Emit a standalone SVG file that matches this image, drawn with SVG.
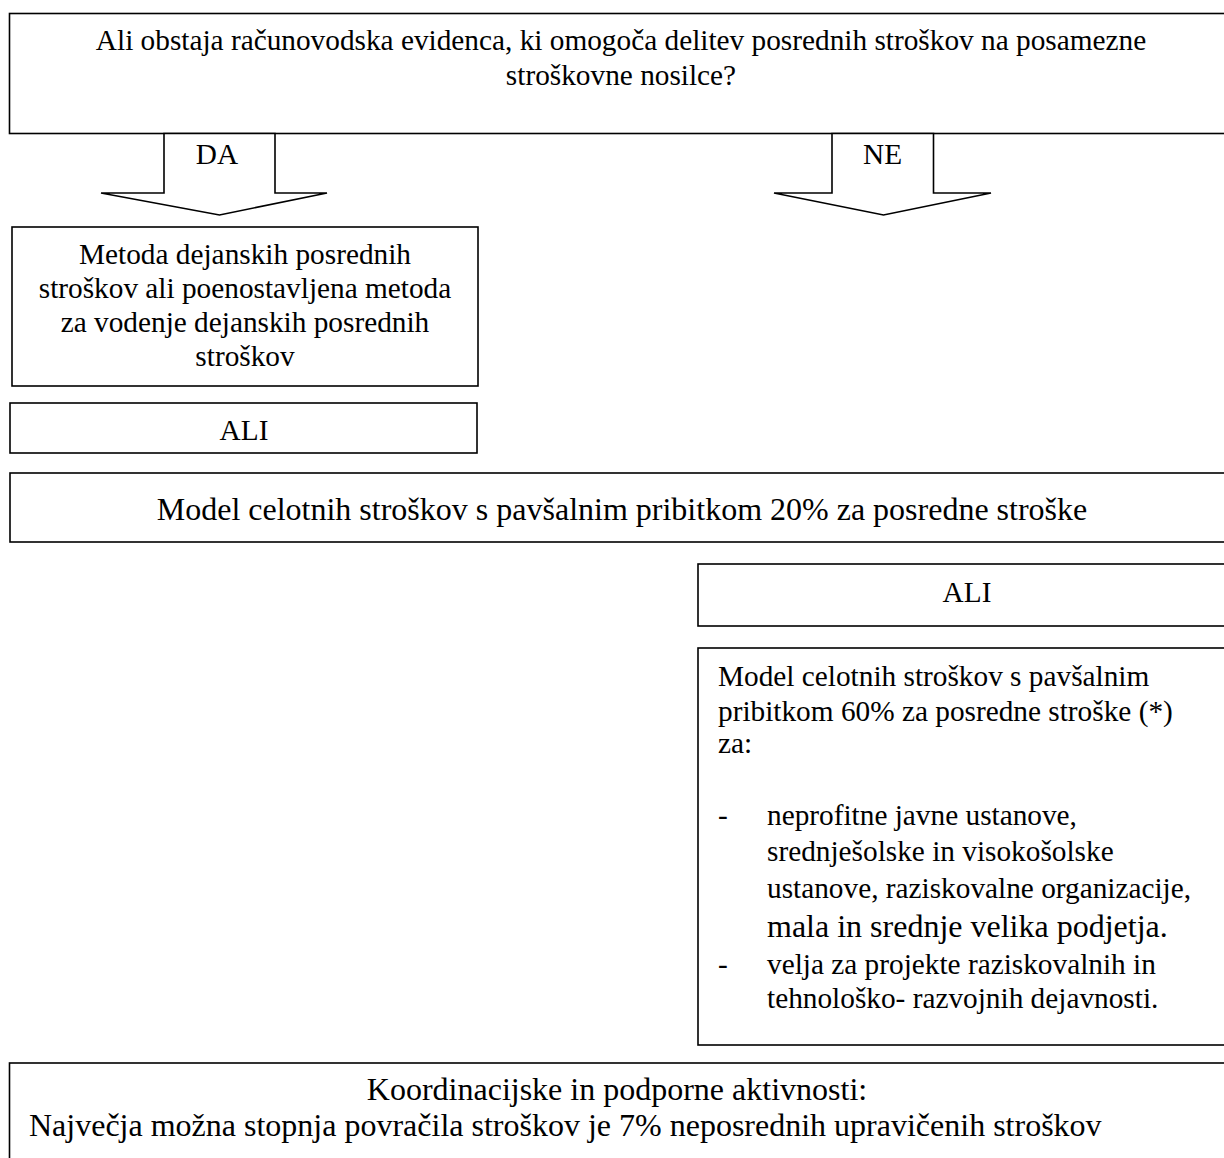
<svg xmlns="http://www.w3.org/2000/svg" width="1224" height="1158" viewBox="0 0 1224 1158">
  <style>
    .box { fill: #fff; stroke: #000; stroke-width: 1.6; }
    .arrow { fill: #fff; stroke: #000; stroke-width: 1.6; stroke-linejoin: miter; }
    text { font-family: "Liberation Serif", "Times New Roman", serif; font-size: 29.3px; fill: #000; }
    .c { text-anchor: middle; }
    .lg { font-size: 32px; }
  </style>
  <rect width="1224" height="1158" fill="#fff"/>

  <!-- question -->
  <g id="question">
    <rect class="box" x="9.5" y="13.5" width="1226" height="120"/>
    <text class="c" x="621" y="50">Ali obstaja računovodska evidenca, ki omogoča delitev posrednih stroškov na posamezne</text>
    <text class="c" x="621" y="85">stroškovne nosilce?</text>
  </g>

  <!-- block arrows -->
  <g id="connectors">
    <g id="arrow-da">
      <polygon class="arrow" points="164,133.5 164,193 101,193 219.5,215 327,193 275,193 275,133.5"/>
      <text class="c" x="217" y="164">DA</text>
    </g>
    <g id="arrow-ne">
      <polygon class="arrow" points="832,133.5 832,193 774,193 883.5,215 991,193 933.5,193 933.5,133.5"/>
      <text class="c" x="882.5" y="164">NE</text>
    </g>
  </g>

  <!-- actual indirect costs -->
  <g id="actual-costs">
    <rect class="box" x="12" y="227" width="466" height="159"/>
    <text class="c" x="245" y="264">Metoda dejanskih posrednih</text>
    <text class="c" x="245" y="298">stroškov ali poenostavljena metoda</text>
    <text class="c" x="245" y="332">za vodenje dejanskih posrednih</text>
    <text class="c" x="245" y="366">stroškov</text>
  </g>

  <g id="or-left">
    <rect class="box" x="10" y="403" width="467" height="50"/>
    <text class="c" x="244" y="440">ALI</text>
  </g>

  <g id="flat-20">
    <rect class="box" x="10" y="473" width="1226" height="69"/>
    <text class="c lg" x="622" y="520">Model celotnih stroškov s pavšalnim pribitkom 20% za posredne stroške</text>
  </g>

  <g id="or-right">
    <rect class="box" x="698" y="564" width="538" height="62"/>
    <text class="c" x="967" y="602">ALI</text>
  </g>

  <g id="flat-60">
    <rect class="box" x="698" y="648" width="538" height="397"/>
    <text x="718" y="686">Model celotnih stroškov s pavšalnim</text>
    <text x="718" y="721">pribitkom 60% za posredne stroške (*)</text>
    <text x="718" y="753">za:</text>
    <text x="718" y="825">-</text>
    <text x="767" y="825">neprofitne javne ustanove,</text>
    <text x="767" y="861">srednješolske in visokošolske</text>
    <text x="767" y="898">ustanove, raziskovalne organizacije,</text>
    <text class="lg" x="767" y="937">mala in srednje velika podjetja.</text>
    <text x="718" y="974">-</text>
    <text x="767" y="974">velja za projekte raziskovalnih in</text>
    <text x="767" y="1008">tehnološko- razvojnih dejavnosti.</text>
  </g>

  <g id="coordination">
    <rect class="box" x="9.5" y="1063" width="1226" height="110"/>
    <text class="c lg" x="617" y="1100">Koordinacijske in podporne aktivnosti:</text>
    <text class="lg" x="29" y="1136">Največja možna stopnja povračila stroškov je 7% neposrednih upravičenih stroškov</text>
  </g>
</svg>
